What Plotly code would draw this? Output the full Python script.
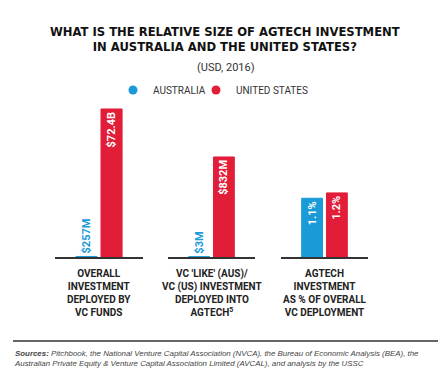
import plotly.graph_objects as go

# ---- data ----
groups = ["OVERALL<br>INVESTMENT<br>DEPLOYED BY<br>VC FUNDS",
          "VC 'LIKE' (AUS)/<br>VC (US) INVESTMENT<br>DEPLOYED INTO<br>AGTECH<sup>5</sup>",
          "AGTECH<br>INVESTMENT<br>AS % OF OVERALL<br>VC DEPLOYMENT"]
series_names = ["AUSTRALIA", "UNITED STATES"]
aus_values = [0.257, 3, 1.1]        # $B, $M, %
us_values = [72.4, 832, 1.2]        # $B, $M, %
aus_labels = ["$257M", "$3M", "1.1%"]
us_labels = ["$72.4B", "$832M", "1.2%"]

BLUE = "#1b9ad8"
RED = "#e21d38"
DARK = "#222222"
FONT = "Roboto"

W, H = 440, 378
def px_x(x): return x / W
def px_y(y): return 1 - y / H

domains = [(55, 143), (168, 255), (281, 368)]
y_bottom, y_top = 257, 100
ranges = [[0, 76.8], [0, 1306], [0, 2.94]]

fig = go.Figure()
layout_axes = {}
for i in range(3):
    xa = "x" if i == 0 else f"x{i+1}"
    ya = "y" if i == 0 else f"y{i+1}"
    big = aus_values[i] / ranges[i][1] > 0.15
    fig.add_trace(go.Bar(
        x=[""], y=[aus_values[i]], xaxis=xa, yaxis=ya,
        marker=dict(color=BLUE, line=dict(color=BLUE, width=1)),
        text=[aus_labels[i]], textangle=-90,
        textposition="inside" if big else "outside",
        insidetextanchor="end", constraintext="none", cliponaxis=False,
        textfont=dict(family=FONT, size=11, color="white" if big else BLUE, weight=700),
        showlegend=False, name=series_names[0]))
    fig.add_trace(go.Bar(
        x=[""], y=[us_values[i]], xaxis=xa, yaxis=ya,
        marker=dict(color=RED, line=dict(color=RED, width=1)),
        text=[us_labels[i]], textangle=-90, textposition="inside",
        insidetextanchor="end", constraintext="none", cliponaxis=False,
        textfont=dict(family=FONT, size=11, color="white", weight=700),
        showlegend=False, name=series_names[1]))
    d = domains[i]
    layout_axes["xaxis" if i == 0 else f"xaxis{i+1}"] = dict(
        domain=[px_x(d[0]), px_x(d[1])], anchor=ya, showline=True,
        linecolor="#333333", linewidth=2, showticklabels=False,
        showgrid=False, zeroline=False, ticks="", fixedrange=True)
    layout_axes["yaxis" if i == 0 else f"yaxis{i+1}"] = dict(
        domain=[px_y(y_bottom), px_y(y_top)], anchor=xa, range=ranges[i],
        visible=False, showgrid=False, zeroline=False, fixedrange=True)

# legend dummy traces (circles), one legend each for precise placement
for name, col, lg in zip(series_names, [BLUE, RED], ["legend", "legend2"]):
    fig.add_trace(go.Scatter(x=[None], y=[None], mode="markers", name=name,
                             legend=lg,
                             marker=dict(color=col, size=9, symbol="circle")))

annotations = [
    dict(text="<b>WHAT IS THE RELATIVE SIZE OF AGTECH INVESTMENT<br>IN AUSTRALIA AND THE UNITED STATES?</b>",
         x=px_x(225), y=px_y(23), xanchor="center", yanchor="top",
         font=dict(family="DejaVu Sans", size=11.6, color="#111111")),
    dict(text="(USD, 2016)", x=px_x(226), y=px_y(59), xanchor="center", yanchor="top",
         font=dict(family=FONT, size=11, color="#333333")),
]
for i, g in enumerate(groups):
    d = domains[i]
    annotations.append(dict(
        text=f"<b>{g}</b>", x=px_x((d[0] + d[1]) / 2), y=px_y(266),
        xanchor="center", yanchor="top",
        font=dict(family=FONT, size=10, color=DARK)))
annotations.append(dict(
    text="<b><i>Sources:</i></b><i> Pitchbook, the National Venture Capital Association (NVCA), the Bureau of Economic Analysis (BEA), the<br>"
         "Australian Private Equity &amp; Venture Capital Association Limited (AVCAL), and analysis by the USSC</i>",
    x=px_x(12), y=px_y(347), xanchor="left", yanchor="top", align="left",
    font=dict(family="Liberation Sans", size=7.9, color="#444444")))
for a in annotations:
    a.update(xref="paper", yref="paper", showarrow=False)

legend_style = dict(orientation="h", xanchor="left", y=px_y(90), yanchor="middle",
                    bgcolor="rgba(0,0,0,0)", itemwidth=30,
                    font=dict(family=FONT, size=10, color="#333333"))

fig.update_layout(
    width=W, height=H, margin=dict(l=0, r=0, t=0, b=0),
    paper_bgcolor="white", plot_bgcolor="white",
    barmode="group", bargap=0.43, bargroupgap=0.16,
    annotations=annotations,
    shapes=[dict(type="line", xref="paper", yref="paper",
                 x0=px_x(13), x1=px_x(438), y0=px_y(341), y1=px_y(341),
                 line=dict(color="#333333", width=1.5))],
    legend=dict(x=px_x(113), **legend_style),
    legend2=dict(x=px_x(196), **legend_style),
    **layout_axes)

fig.write_html("out.html", config={"displayModeBar": False, "staticPlot": True},
               post_script="document.body.style.margin='0';")
